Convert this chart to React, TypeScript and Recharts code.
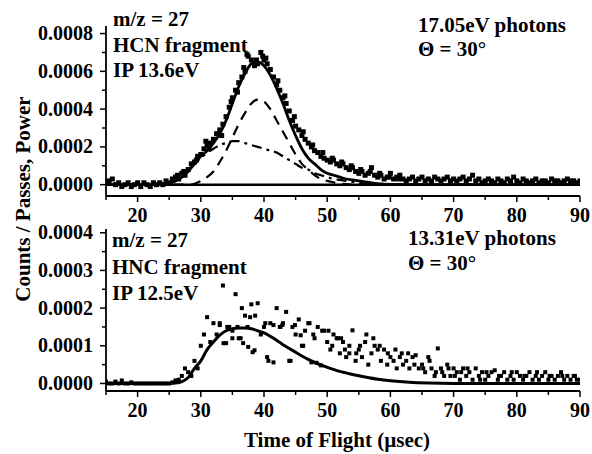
import React from 'react';
import { ComposedChart, Scatter, Line, XAxis, YAxis, ReferenceLine } from 'recharts';

// ---------- data ----------
const sampleTime = [15,15.5,16,16.5,17,17.5,18,18.5,19,19.5,20,20.5,21,21.5,22,22.5,23,23.5,24,24.5,25,25.5,26,26.5,27,27.5,28,28.5,29,29.5,30,30.5,31,31.5,32,32.5,33,33.5,34,34.5,35,35.5,36,36.5,37,37.5,38,38.5,39,39.5,40,40.5,41,41.5,42,42.5,43,43.5,44,44.5,45,45.5,46,46.5,47,47.5,48,48.5,49,49.5,50,50.5,51,51.5,52,52.5,53,53.5,54,54.5,55,55.5,56,56.5,57,57.5,58,58.5,59,59.5,60,60.5,61,61.5,62,62.5,63,63.5,64,64.5,65,65.5,66,66.5,67,67.5,68,68.5,69,69.5,70,70.5,71,71.5,72,72.5,73,73.5,74,74.5,75,75.5,76,76.5,77,77.5,78,78.5,79,79.5,80,80.5,81,81.5,82,82.5,83,83.5,84,84.5,85,85.5,86,86.5,87,87.5,88,88.5,89,89.5,90];

const topCounts = [1e-5,2e-5,3e-5,0,1e-5,-1e-5,0,1e-5,-1e-5,0,1e-5,-1e-5,1e-5,0,-1e-5,1e-5,0,1e-5,0,2e-5,1e-5,3e-5,4e-5,3e-5,6e-5,5e-5,8e-5,11e-5,12e-5,15e-5,16e-5,19e-5,21e-5,22e-5,24e-5,27e-5,29e-5,32e-5,36e-5,41e-5,46e-5,50e-5,54e-5,57e-5,60e-5,68e-5,66e-5,63e-5,64e-5,70e-5,66e-5,64e-5,61e-5,57e-5,53e-5,50e-5,46e-5,43e-5,39e-5,34e-5,31e-5,29e-5,26e-5,24e-5,22e-5,20e-5,18e-5,17e-5,15e-5,14e-5,13e-5,12e-5,13e-5,11e-5,10e-5,11e-5,9e-5,8e-5,9e-5,7e-5,6e-5,7e-5,5e-5,6e-5,9e-5,5e-5,4e-5,5e-5,3e-5,4e-5,6e-5,3e-5,4e-5,5e-5,3e-5,2e-5,3e-5,4e-5,2e-5,3e-5,4e-5,2e-5,3e-5,2e-5,4e-5,3e-5,2e-5,3e-5,4e-5,2e-5,3e-5,2e-5,3e-5,4e-5,2e-5,3e-5,5e-5,2e-5,3e-5,1e-5,2e-5,3e-5,2e-5,1e-5,3e-5,2e-5,1e-5,3e-5,2e-5,4e-5,2e-5,1e-5,3e-5,2e-5,1e-5,2e-5,3e-5,1e-5,2e-5,2e-5,1e-5,3e-5,2e-5,2e-5,1e-5,2e-5,3e-5,2e-5,2e-5,1e-5,2e-5];

const topExtraTime = [26.3,27.3,29.3,30.8,31.3,33.3,34.8,35.8,36.8,37.3,38.8,39.8,40.3,42.2,43.3,44.8,46.2,47.7,49.3,50.8,52.3,53.8,55.3,56.8,58.3,59.8,61.3];
const topExtraCounts = [5e-5,7e-5,13e-5,23e-5,19e-5,26e-5,44e-5,49e-5,62e-5,69e-5,66e-5,68e-5,67e-5,55e-5,47e-5,36e-5,28e-5,21e-5,17e-5,14e-5,12e-5,10e-5,8e-5,7e-5,6e-5,4e-5,3e-5];

const bottomCounts = [0.5e-5,0,0,0.5e-5,0,0.8e-5,0,0,0.3e-5,0,0,0,0,0,0,0,0,0,0,0,0,0.3e-5,0.8e-5,1e-5,2e-5,4e-5,3e-5,2e-5,6e-5,4e-5,10e-5,13e-5,17.6e-5,11e-5,16e-5,13e-5,16e-5,26e-5,10.7e-5,15e-5,14e-5,23.7e-5,12e-5,20e-5,18e-5,9.7e-5,21e-5,8.8e-5,21.3e-5,13e-5,15e-5,7e-5,16e-5,5.6e-5,20e-5,15e-5,16e-5,19e-5,6e-5,15e-5,13e-5,17e-5,10e-5,14e-5,16e-5,5.6e-5,12e-5,15e-5,4.8e-5,14e-5,11e-5,9e-5,13e-5,12e-5,8e-5,11e-5,7e-5,10e-5,14.1e-5,6e-5,9e-5,7e-5,11e-5,5e-5,8e-5,10e-5,9e-5,6e-5,9e-5,5e-5,7e-5,6e-5,4e-5,7e-5,5e-5,6e-5,4e-5,7e-5,7.5e-5,4e-5,5e-5,3e-5,7e-5,4e-5,2e-5,9.3e-5,4e-5,2e-5,5e-5,2e-5,4e-5,3e-5,1e-5,4e-5,2e-5,3e-5,1e-5,4e-5,2e-5,3e-5,1e-5,2e-5,3e-5,3.5e-5,1e-5,2e-5,3e-5,1e-5,2e-5,1e-5,3e-5,2e-5,1e-5,2e-5,3e-5,1e-5,2e-5,1e-5,2e-5,3e-5,1e-5,2e-5,1e-5,2e-5,3e-5,1e-5,2e-5,1e-5,2e-5,1e-5,1e-5];

const bottomExtraTime = [33.6,35,36.3,36.7,38.2,33,34.2,35.8,37.4,38.6,37.8,40.7,42.6,44.2,40.2,41.5,42.9,44.9,45.8,47.2,48.3,49.2,50.2,51.7,52.8,53.5,55.2,56.2,57.3,58.3,59.6,60.8,61.8,62.8,63.8,65.2,66.2,67.2,68.2,69.2,70.2,71.2,72.2,74.2,75.2,77.2,79.2,81.2,83.2,85.2,87.2,89.2,46.2,47.8,50.8,52.2,54.6];
const bottomExtraCounts = [10.7e-5,12e-5,12e-5,10.7e-5,8.3e-5,15.5e-5,15e-5,15e-5,15e-5,18e-5,17.6e-5,6e-5,15e-5,6e-5,16e-5,15.5e-5,15.5e-5,15.5e-5,12.8e-5,16e-5,5.5e-5,14e-5,14e-5,12e-5,9e-5,8e-5,10e-5,13e-5,12e-5,10e-5,8e-5,9e-5,8e-5,8e-5,5e-5,4e-5,6e-5,3e-5,3e-5,4e-5,2e-5,3e-5,4e-5,1e-5,3e-5,2e-5,3e-5,2e-5,3e-5,2e-5,2e-5,2e-5,10e-5,13e-5,10e-5,12e-5,8e-5];

const topFitTime = [15,20,24,25,26,27,28,29,30,31,32,33,34,35,36,37,38,39,40,41,42,43,44,45,46,47,48,49,50,51,52,53,54,55,56,57,58,60,65,70,80,90];
const topFitTotal = [0,0,0,0.5e-5,2e-5,4e-5,7e-5,11e-5,15e-5,18e-5,22e-5,27e-5,34e-5,43e-5,52e-5,59e-5,64e-5,65e-5,63e-5,58e-5,51e-5,43e-5,34e-5,26e-5,19e-5,14e-5,11e-5,8e-5,6e-5,5e-5,4e-5,3e-5,2.5e-5,2e-5,1.5e-5,1e-5,0.6e-5,0.2e-5,0,0,0,0];
const topFitFast = [0,0,0,0,0,0,0,0.5e-5,2e-5,4e-5,7e-5,12e-5,18e-5,25e-5,32e-5,38e-5,43e-5,45e-5,44e-5,40e-5,34e-5,28e-5,22e-5,16e-5,11e-5,8e-5,5e-5,3e-5,2e-5,1.2e-5,0.6e-5,0.3e-5,0,0,0,0,0,0,0,0,0,0];
const topFitSlow = [0,0,0,0.5e-5,2e-5,4e-5,7e-5,11e-5,14e-5,17e-5,19e-5,21e-5,22e-5,23e-5,23e-5,22e-5,21e-5,20e-5,19e-5,18e-5,17e-5,15e-5,13e-5,11e-5,9e-5,8e-5,6e-5,5e-5,4e-5,3e-5,2.5e-5,2e-5,1.5e-5,1e-5,0.8e-5,0.5e-5,0.3e-5,0,0,0,0,0];

const bottomFitTime = [15,20,25,26,27,28,29,30,31,32,33,34,35,36,37,38,39,40,41,42,43,44,45,46,47,48,49,50,52,54,56,58,60,63,66,70,80,90];
const bottomFitTotal = [0,0,0,0.1e-5,0.5e-5,1.6e-5,4e-5,6e-5,9e-5,11e-5,12.8e-5,14e-5,14.5e-5,14.7e-5,14.7e-5,14.5e-5,14e-5,13.4e-5,12.5e-5,11.5e-5,10.3e-5,9.3e-5,8.3e-5,7.3e-5,6.4e-5,5.6e-5,4.9e-5,4.3e-5,3.2e-5,2.4e-5,1.7e-5,1.1e-5,0.7e-5,0.3e-5,0.1e-5,0,0,0];

const xMajorTicks = [20,30,40,50,60,70,80,90];
const xMinorTicks = [15,25,35,45,55,65,75,85];
const topYMajorTicks = [0,0.0002,0.0004,0.0006,0.0008];
const topYMinorTicks = [0.0001,0.0003,0.0005,0.0007];
const bottomYMajorTicks = [0,0.0001,0.0002,0.0003,0.0004];
const bottomYMinorTicks = [0.00005,0.00015,0.00025,0.00035];

const topLabels = ['m/z = 27', 'HCN fragment', 'IP 13.6eV'];
const topConditions = ['17.05eV photons', 'Θ = 30°'];
const bottomLabels = ['m/z = 27', 'HNC fragment', 'IP 12.5eV'];
const bottomConditions = ['13.31eV photons', 'Θ = 30°'];
const xTitle = 'Time of Flight (µsec)';
const yTitle = 'Counts / Passes, Power';

// ---------- build series ----------
const zip = (xs: number[], ys: number[]) => xs.map((x, i) => ({ x, y: ys[i] }));
const topPoints = [...zip(sampleTime, topCounts), ...zip(topExtraTime, topExtraCounts)];
const bottomPoints = [...zip(sampleTime, bottomCounts), ...zip(bottomExtraTime, bottomExtraCounts)];
const topTotal = zip(topFitTime, topFitTotal);
const topFast = zip(topFitTime, topFitFast);
const topSlow = zip(topFitTime, topFitSlow);
const bottomTotal = zip(bottomFitTime, bottomFitTotal);

const FONT = "'Liberation Serif', 'Times New Roman', serif";
const sortNum = (a: number, b: number) => a - b;
const xTicks = [...xMajorTicks, ...xMinorTicks].sort(sortNum);
const isIn = (arr: number[], v: number) => arr.some((m) => Math.abs(m - v) < 1e-9);

const XTick = (props: any) => {
  const { x, y, payload } = props;
  const v = payload.value;
  const major = isIn(xMajorTicks, v);
  return (
    <g>
      <line x1={x} y1={y} x2={x} y2={y + (major ? 6 : 4)} stroke="#000" strokeWidth={1.5} />
      {major && (
        <text x={x} y={y + 26} textAnchor="middle" fontFamily={FONT} fontWeight="bold" fontSize={20} fill="#000">
          {v}
        </text>
      )}
    </g>
  );
};

const makeYTick = (majors: number[]) => (props: any) => {
  const { x, y, payload } = props;
  const v = payload.value;
  const major = isIn(majors, v);
  return (
    <g>
      <line x1={x} y1={y} x2={x - (major ? 6 : 4)} y2={y} stroke="#000" strokeWidth={1.5} />
      {major && (
        <text x={x - 13} y={y + 6.5} textAnchor="end" fontFamily={FONT} fontWeight="bold" fontSize={20} fill="#000">
          {v.toFixed(4)}
        </text>
      )}
    </g>
  );
};
const TopYTick = makeYTick(topYMajorTicks);
const BottomYTick = makeYTick(bottomYMajorTicks);

const TopSquare = (p: any) => <rect x={p.cx - 2.5} y={p.cy - 2.5} width={5} height={5} fill="#000" />;
const BottomSquare = (p: any) => <rect x={p.cx - 2} y={p.cy - 2} width={4} height={4} fill="#000" />;

const axisLine = { stroke: '#000', strokeWidth: 1.8 };

export default function App() {
  const textStyle = { fontFamily: FONT, fontWeight: 'bold' as const, fontSize: 21, fill: '#000' };
  return (
    <div style={{ position: 'absolute', left: 0, top: 0, width: 592, height: 454, background: '#fff' }}>
      <div style={{ position: 'absolute', left: 0, top: 0 }}>
        <ComposedChart width={592} height={226} margin={{ top: 26, right: 12, bottom: 0, left: 0 }}>
          <XAxis type="number" dataKey="x" domain={[15, 90]} ticks={xTicks} interval={0} tick={<XTick />} tickLine={false} tickSize={0} tickMargin={0} height={30} axisLine={axisLine} allowDataOverflow />
          <YAxis type="number" dataKey="y" domain={[-0.00006, 0.00084]} ticks={[...topYMajorTicks, ...topYMinorTicks].sort(sortNum)} interval={0} tick={<TopYTick />} tickLine={false} tickSize={0} tickMargin={0} width={106} axisLine={axisLine} allowDataOverflow />
          <ReferenceLine y={0} stroke="#000" strokeWidth={2.5} />
          <Scatter data={topPoints} shape={TopSquare} isAnimationActive={false} />
          <Line data={topFast} dataKey="y" type="monotone" stroke="#000" strokeWidth={2.2} strokeDasharray="10 7" dot={false} isAnimationActive={false} />
          <Line data={topSlow} dataKey="y" type="monotone" stroke="#000" strokeWidth={2.2} strokeDasharray="10 5 3 5" dot={false} isAnimationActive={false} />
          <Line data={topTotal} dataKey="y" type="monotone" stroke="#000" strokeWidth={2.8} dot={false} isAnimationActive={false} />
        </ComposedChart>
      </div>
      <div style={{ position: 'absolute', left: 0, top: 200 }}>
        <ComposedChart width={592} height={254} margin={{ top: 29, right: 12, bottom: 0, left: 0 }}>
          <XAxis type="number" dataKey="x" domain={[15, 90]} ticks={xTicks} interval={0} tick={<XTick />} tickLine={false} tickSize={0} tickMargin={0} height={63} axisLine={axisLine} allowDataOverflow />
          <YAxis type="number" dataKey="y" domain={[-0.00002, 0.00041]} ticks={[...bottomYMajorTicks, ...bottomYMinorTicks].sort(sortNum)} interval={0} tick={<BottomYTick />} tickLine={false} tickSize={0} tickMargin={0} width={106} axisLine={axisLine} allowDataOverflow />
          <Scatter data={bottomPoints} shape={BottomSquare} isAnimationActive={false} />
          <Line data={bottomTotal} dataKey="y" type="monotone" stroke="#000" strokeWidth={3} dot={false} isAnimationActive={false} />
        </ComposedChart>
      </div>
      <svg width={592} height={454} style={{ position: 'absolute', left: 0, top: 0, pointerEvents: 'none' }}>
        {topLabels.map((t, i) => (
          <text key={'tl' + i} x={113} y={26 + i * 25.5} {...textStyle}>{t}</text>
        ))}
        {topConditions.map((t, i) => (
          <text key={'tc' + i} x={418} y={32 + i * 24} {...textStyle}>{t}</text>
        ))}
        {bottomLabels.map((t, i) => (
          <text key={'bl' + i} x={112} y={247 + i * 26.5} {...textStyle}>{t}</text>
        ))}
        {bottomConditions.map((t, i) => (
          <text key={'bc' + i} x={408} y={245 + i * 25} {...textStyle}>{t}</text>
        ))}
        <text x={337} y={447} textAnchor="middle" {...textStyle}>{xTitle}</text>
        <text x={30} y={199} textAnchor="middle" transform="rotate(-90 30 199)" {...textStyle}>{yTitle}</text>
      </svg>
    </div>
  );
}
